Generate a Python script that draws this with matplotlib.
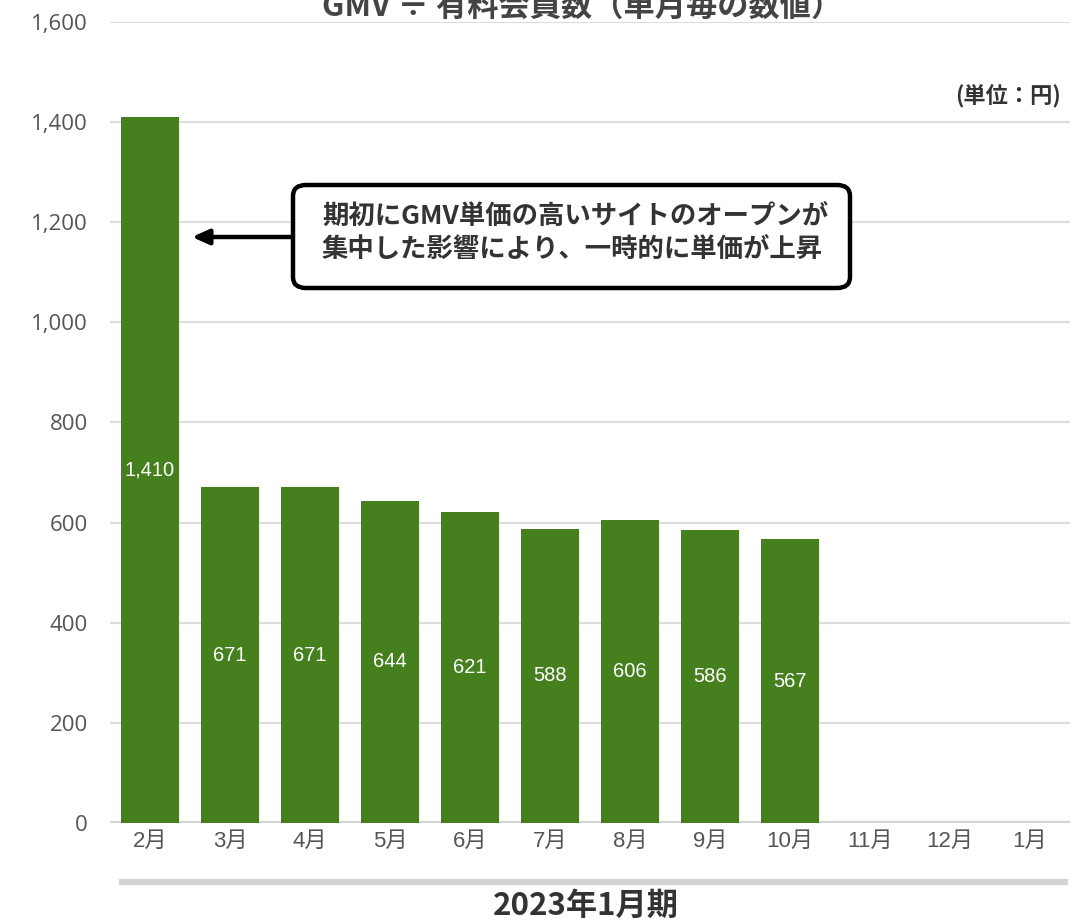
import matplotlib
matplotlib.use("Agg")
import matplotlib.pyplot as plt
from matplotlib.patches import FancyBboxPatch
from matplotlib.lines import Line2D

plt.rcParams['font.family'] = ['Noto Sans CJK JP', 'DejaVu Sans']

months = ["2月", "3月", "4月", "5月", "6月", "7月", "8月", "9月", "10月", "11月", "12月", "1月"]
values = [1410, 671, 671, 644, 621, 588, 606, 586, 567]
value_labels = ["1,410", "671", "671", "644", "621", "588", "606", "586", "567"]
yticks = [0, 200, 400, 600, 800, 1000, 1200, 1400, 1600]
ytick_labels = ["0", "200", "400", "600", "800", "1,000", "1,200", "1,400", "1,600"]

title = "GMV ÷ 有料会員数（単月毎の数値）"
unit = "(単位：円)"
note = "期初にGMV単価の高いサイトのオープンが\n集中した影響により、一時的に単価が上昇"
period = "2023年1月期"

W, H = 1083, 923
fig = plt.figure(figsize=(W / 100, H / 100), dpi=100)
ax = fig.add_axes([110 / W, (H - 823) / H, (1070 - 110) / W, (823 - 22) / H])

num_font = ['Liberation Sans', 'Noto Sans CJK JP']

bar_color = "#467f1e"
x = list(range(len(values)))
ax.bar(x, values, width=0.72, color=bar_color, zorder=3)
for xi, v, lab in zip(x, values, value_labels):
    ax.text(xi, v / 2, lab, ha="center", va="center", color="white", fontsize=14.5,
            family=num_font, zorder=4)

ax.set_xlim(-0.5, len(months) - 0.5)
ax.set_ylim(0, 1600)
ax.set_xticks(range(len(months)))
ax.set_xticklabels(months, fontsize=16, color="#555555", family=num_font)
ax.set_yticks(yticks)
ax.set_yticklabels(ytick_labels, fontsize=16, color="#555555", family=['Open Sans', 'DejaVu Sans'])
ax.tick_params(axis="both", length=0)
ax.tick_params(axis="y", pad=16)
ax.tick_params(axis="x", pad=6)
for s in ax.spines.values():
    s.set_visible(False)
for t in yticks[1:]:
    ax.axhline(t, color="#dcdcdc", lw=1.5, zorder=1)
ax.axhline(0, color="#d4d4d4", lw=3, zorder=2)

# title (partly cut off at top)
fig.text(582 / W, 1 - 17 / H, title, ha="center", va="baseline", fontsize=22.5,
         fontweight="bold", color="#444444")
# unit
fig.text(1061 / W, 1 - 97 / H, unit, ha="right", va="center", fontsize=16,
         fontweight="bold", color="#333333")

# annotation box
box = FancyBboxPatch((293 / W, 1 - 288 / H), (850 - 293) / W, (288 - 185) / H,
                     boxstyle="round,pad=0,rounding_size=0.012", transform=fig.transFigure,
                     facecolor="white", edgecolor="black", lw=3.2, zorder=5)
fig.patches.append(box)
fig.text(322 / W, 1 - 233 / H, note, ha="left", va="center", fontsize=19,
         fontweight="bold", color="#333333", linespacing=1.25, zorder=6)
ax.annotate("", xy=(192 / W, 1 - 237 / H), xytext=(293 / W, 1 - 237 / H),
            xycoords="figure fraction", textcoords="figure fraction",
            arrowprops=dict(arrowstyle="-|>,head_length=1.0,head_width=0.45",
                            color="black", lw=3.2, shrinkA=0, shrinkB=0), zorder=6)

# bottom period bar
fig.add_artist(Line2D([122 / W, 1065 / W], [1 - 882 / H, 1 - 882 / H],
                      transform=fig.transFigure, color="#d3d3d3", lw=4.5))
fig.text(586 / W, 1 - 906 / H, period, ha="center", va="center", fontsize=22.5,
         fontweight="bold", color="#333333")

fig.savefig("out.png", dpi=100)
